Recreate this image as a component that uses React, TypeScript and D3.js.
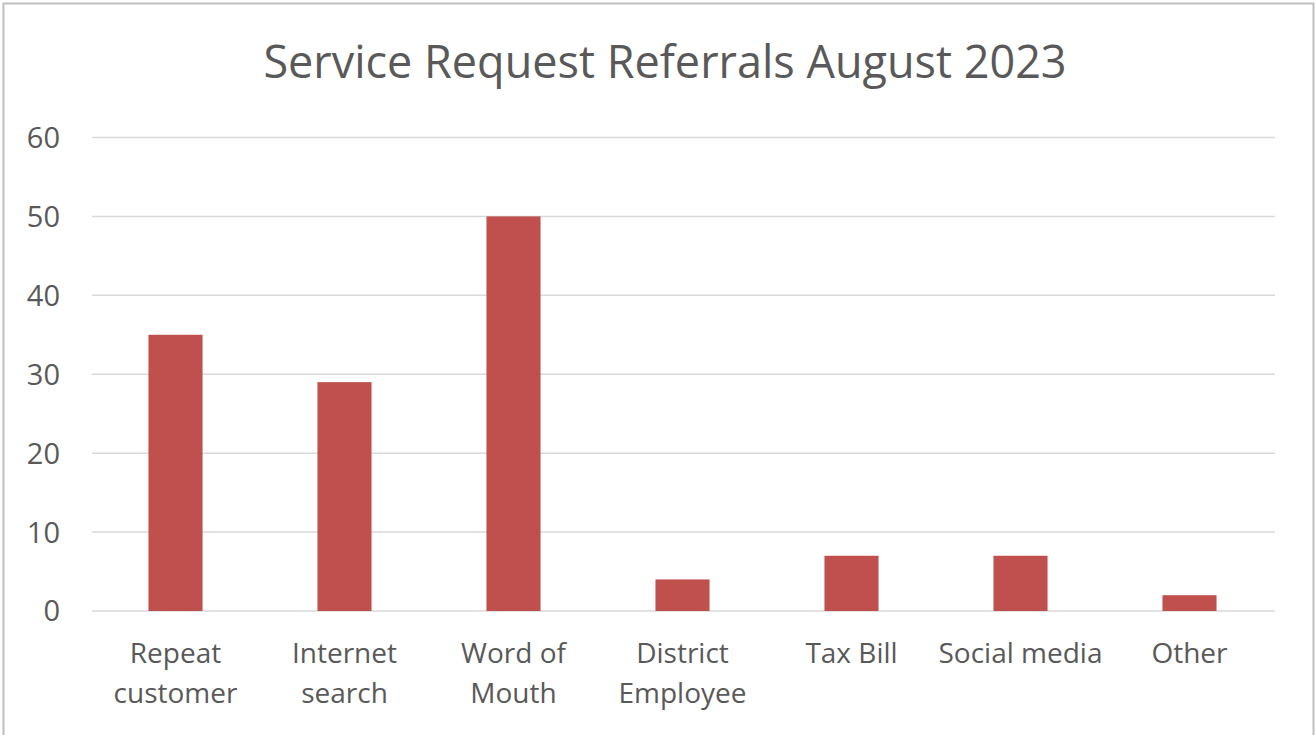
import React from "react";
import * as d3 from "d3";

const title = "Service Request Referrals August 2023";
const categories = ["Repeat customer", "Internet search", "Word of Mouth", "District Employee", "Tax Bill", "Social media", "Other"];
const categoryLines = [["Repeat", "customer"], ["Internet", "search"], ["Word of", "Mouth"], ["District", "Employee"], ["Tax Bill"], ["Social media"], ["Other"]];
const values = [35, 29, 50, 4, 7, 7, 2];
const yTicks = [0, 10, 20, 30, 40, 50, 60];

const W = 1316;
const H = 735;
const FONT = "'Open Sans', 'Liberation Sans', sans-serif";
const TEXT = "#595959";

export default function App() {
  const x = d3.scaleBand<string>().domain(categories).range([91, 1274]).paddingInner(0.68).paddingOuter(0.34);
  const y = d3.scaleLinear().domain([0, 60]).range([611, 137.5]);

  return (
    <svg width={W} height={H} style={{ position: "fixed", left: 0, top: 0, background: "#fff" }} fontFamily={FONT}>
      <rect x={0} y={0} width={W} height={H} fill="#fff" />
      <rect x={3.5} y={3.5} width={1310} height={H + 10} fill="none" stroke="#bfbfbf" strokeWidth={2} />
      <text x={665} y={78} textAnchor="middle" fontSize={45} fill={TEXT}>{title}</text>
      {yTicks.map((t) => (
        <g key={t}>
          <line x1={92} x2={1275} y1={y(t)} y2={y(t)} stroke="#d9d9d9" strokeWidth={1.5} />
          <text x={60} y={y(t)} dy="0.36em" textAnchor="end" fontSize={29} fill={TEXT}>{t}</text>
        </g>
      ))}
      {categories.map((c, i) => (
        <rect key={c} x={x(c)} y={y(values[i])} width={x.bandwidth()} height={y(0) - y(values[i])} fill="#c0504d" />
      ))}
      {categories.map((c, i) => (
        <text key={c} x={(x(c) as number) + x.bandwidth() / 2} y={663} textAnchor="middle" fontSize={28} fill={TEXT}>
          {categoryLines[i].map((ln, j) => (
            <tspan key={j} x={(x(c) as number) + x.bandwidth() / 2} dy={j === 0 ? 0 : 40}>{ln}</tspan>
          ))}
        </text>
      ))}
    </svg>
  );
}
